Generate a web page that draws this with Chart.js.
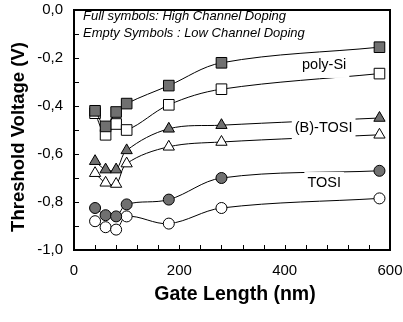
<!DOCTYPE html>
<html>
<head>
<meta charset="utf-8">
<script src="https://cdn.jsdelivr.net/npm/chart.js@4.4.1/dist/chart.umd.min.js"></script>
<style>
  html, body { margin: 0; padding: 0; background: #fff; }
  #wrap { width: 403px; height: 322px; position: relative; }
</style>
</head>
<body>
<div id="wrap"><canvas id="chart"></canvas></div>
<script>
// Tension de seuil en fonction de la longueur de grille
// symboles pleins = fort dopage canal, symboles vides = faible dopage

const gateLength = [40, 60, 80, 100, 180, 280, 580];

const polySiHigh = [-0.42, -0.485, -0.425, -0.39, -0.315, -0.22, -0.155];
const polySiLow = [-0.43, -0.52, -0.475, -0.5, -0.395, -0.33, -0.265];
const bTosiHigh = [-0.63, -0.665, -0.665, -0.585, -0.495, -0.48, -0.45];
const bTosiLow = [-0.68, -0.72, -0.725, -0.64, -0.57, -0.55, -0.52];
const tosiHigh = [-0.825, -0.855, -0.86, -0.81, -0.79, -0.7, -0.67];
const tosiLow = [-0.88, -0.905, -0.915, -0.86, -0.89, -0.825, -0.785];

const curveLabels = [
  { text: "poly-Si", x: 475, y: -0.229 },
  { text: "(B)-TOSI", x: 474, y: -0.492 },
  { text: "TOSI", x: 475, y: -0.721 },
];

const notes = ["Full symbols: High Channel Doping", "Empty Symbols : Low Channel Doping"];

const FULL = "#707070";
const EMPTY = "#ffffff";
const FONT = "'Liberation Sans', Arial, sans-serif";

function series(values, style, fill, radius) {
  return {
    data: gateLength.map((x, i) => ({ x, y: values[i] })),
    borderColor: "#000",
    borderWidth: 1,
    tension: 0.35,
    pointStyle: style,
    pointRadius: radius,
    pointBackgroundColor: fill,
    pointBorderColor: "#000",
    pointBorderWidth: 1,
    fill: false,
  };
}

// cadre, graduations vers l'intérieur, textes
const decor = {
  id: "decor",
  afterDatasetsDraw(chart) {
    const { ctx, chartArea: a, scales } = chart;
    const xs = scales.x, ys = scales.y;
    ctx.save();

    // graduations
    ctx.strokeStyle = "#000";
    ctx.lineWidth = 1;
    ctx.beginPath();
    ys.ticks.forEach((t) => {
      const py = Math.round(ys.getPixelForValue(t.value)) + 0.5;
      if (py <= a.top + 1 || py >= a.bottom - 1) return;
      ctx.moveTo(a.left, py);
      ctx.lineTo(a.left + 5, py);
    });
    xs.ticks.forEach((t) => {
      const px = Math.round(xs.getPixelForValue(t.value)) + 0.5;
      if (px <= a.left + 1 || px >= a.right - 1) return;
      ctx.moveTo(px, a.bottom);
      ctx.lineTo(px, a.bottom - 5);
    });
    ctx.stroke();

    // cadre
    ctx.lineWidth = 2;
    ctx.strokeRect(a.left, a.top, a.right - a.left, a.bottom - a.top);

    // étiquettes des courbes
    ctx.font = "14.5px " + FONT;
    ctx.textAlign = "center";
    ctx.textBaseline = "middle";
    curveLabels.forEach((l) => {
      const px = xs.getPixelForValue(l.x);
      const py = ys.getPixelForValue(l.y);
      const w = ctx.measureText(l.text).width;
      ctx.fillStyle = "#fff";
      ctx.fillRect(px - w / 2 - 3, py - 11, w + 6, 24);
      ctx.fillStyle = "#000";
      ctx.fillText(l.text, px, py);
    });

    // légende en italique
    ctx.font = "italic 13px " + FONT;
    ctx.textAlign = "left";
    notes.forEach((n, i) => ctx.fillText(n, a.left + 9, a.top + 6 + i * 17));

    // titres des axes
    ctx.font = "bold 19.5px " + FONT;
    ctx.textAlign = "center";
    ctx.fillText("Gate Length (nm)", (a.left + a.right) / 2 + 3, 295);
    ctx.translate(19, 137);
    ctx.rotate(-Math.PI / 2);
    ctx.font = "bold 18.5px " + FONT;
    ctx.fillText("Threshold Voltage (V)", 0, 0);
    ctx.restore();
  },
};

new Chart(document.getElementById("chart"), {
  type: "line",
  data: {
    datasets: [
      series(polySiHigh, "rect", FULL, 7.5),
      series(polySiLow, "rect", EMPTY, 7.5),
      series(bTosiHigh, "triangle", FULL, 6.5),
      series(bTosiLow, "triangle", EMPTY, 6.5),
      series(tosiHigh, "circle", FULL, 5.5),
      series(tosiLow, "circle", EMPTY, 5.5),
    ],
  },
  options: {
    responsive: true,
    maintainAspectRatio: false,
    animation: false,
    layout: { padding: { top: 10, right: 13, left: 0, bottom: 0 } },
    plugins: { legend: { display: false }, tooltip: { enabled: false } },
    scales: {
      x: {
        type: "linear",
        min: 0,
        max: 600,
        grid: { display: false, drawTicks: false },
        border: { display: false },
        afterFit: (s) => {
          s.height = 72;
          s.paddingLeft = 0;
          s.paddingRight = 0;
        },
        ticks: {
          stepSize: 40,
          autoSkip: false,
          maxRotation: 0,
          padding: 12,
          color: "#000",
          font: { family: FONT, size: 15 },
          callback: (v) => (v % 200 === 0 ? String(v) : ""),
        },
      },
      y: {
        min: -1,
        max: 0,
        grid: { display: false, drawTicks: false },
        border: { display: false },
        afterFit: (s) => {
          s.width = 74;
          s.paddingTop = 0;
          s.paddingBottom = 0;
        },
        ticks: {
          stepSize: 0.1,
          autoSkip: false,
          padding: 11,
          color: "#000",
          font: { family: FONT, size: 15 },
          callback: (v) => {
            const k = Math.round(v * 10);
            if (k % 2 !== 0) return "";
            return (k / 10).toFixed(1).replace("-0.0", "0.0").replace(".", ",");
          },
        },
      },
    },
  },
  plugins: [decor],
});
</script>
</body>
</html>
